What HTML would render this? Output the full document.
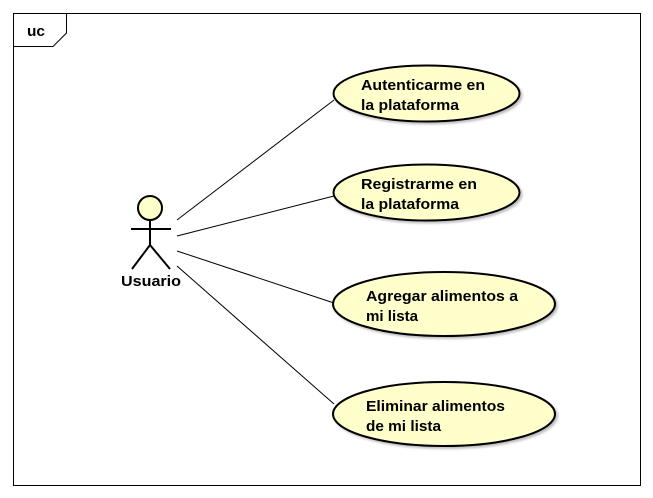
<!DOCTYPE html>
<html><head><style>body{margin:0;background:#fff}svg{display:block}text{font-family:"Liberation Sans",Arial,sans-serif;font-weight:bold;font-size:15px;fill:#000}</style></head>
<body>
<svg width="653" height="498" viewBox="0 0 653 498">
<rect width="653" height="498" fill="#fff"/>
<defs><filter id="sh" x="-10%" y="-10%" width="130%" height="130%"><feDropShadow dx="2" dy="2" stdDeviation="1" flood-color="#000" flood-opacity="0.25"/></filter></defs>
<rect x="13.5" y="13.5" width="627" height="472" fill="none" stroke="#000" stroke-width="1"/>
<path d="M13.5 46.5 H53 L66.5 33 V13.5" fill="none" stroke="#000"/>
<text x="27" y="36" textLength="18" lengthAdjust="spacingAndGlyphs">uc</text>
<g stroke="#000" stroke-width="1">
<line x1="177" y1="220" x2="334" y2="100"/>
<line x1="177" y1="236" x2="334" y2="196"/>
<line x1="177" y1="251" x2="334" y2="303"/>
<line x1="177" y1="266" x2="334" y2="404"/>
</g>
<g fill="#ffffcc" stroke="#000" stroke-width="2" filter="url(#sh)">
<ellipse cx="426.5" cy="93.5" rx="93" ry="28"/>
<ellipse cx="426.5" cy="192.5" rx="93" ry="28"/>
<ellipse cx="444" cy="304" rx="111" ry="32"/>
<ellipse cx="444" cy="414" rx="111" ry="32"/>
</g>
<text x="361" y="90" textLength="124" lengthAdjust="spacingAndGlyphs">Autenticarme en</text>
<text x="361" y="110" textLength="98" lengthAdjust="spacingAndGlyphs">la plataforma</text>
<text x="361" y="189" textLength="116" lengthAdjust="spacingAndGlyphs">Registrarme en</text>
<text x="361" y="209" textLength="98" lengthAdjust="spacingAndGlyphs">la plataforma</text>
<text x="366" y="301" textLength="152" lengthAdjust="spacingAndGlyphs">Agregar alimentos a</text>
<text x="366" y="321" textLength="52" lengthAdjust="spacingAndGlyphs">mi lista</text>
<text x="366" y="411" textLength="139" lengthAdjust="spacingAndGlyphs">Eliminar alimentos</text>
<text x="366" y="431" textLength="75" lengthAdjust="spacingAndGlyphs">de mi lista</text>
<g stroke="#000" stroke-width="2" fill="none">
<circle cx="150" cy="208" r="12" fill="#ffffcc"/>
<line x1="150" y1="220" x2="150" y2="245"/>
<line x1="131" y1="229" x2="171" y2="229"/>
<line x1="150" y1="245" x2="132" y2="269"/>
<line x1="150" y1="245" x2="170" y2="269"/>
</g>
<text x="121" y="286" textLength="60" lengthAdjust="spacingAndGlyphs">Usuario</text>
</svg>
</body></html>
